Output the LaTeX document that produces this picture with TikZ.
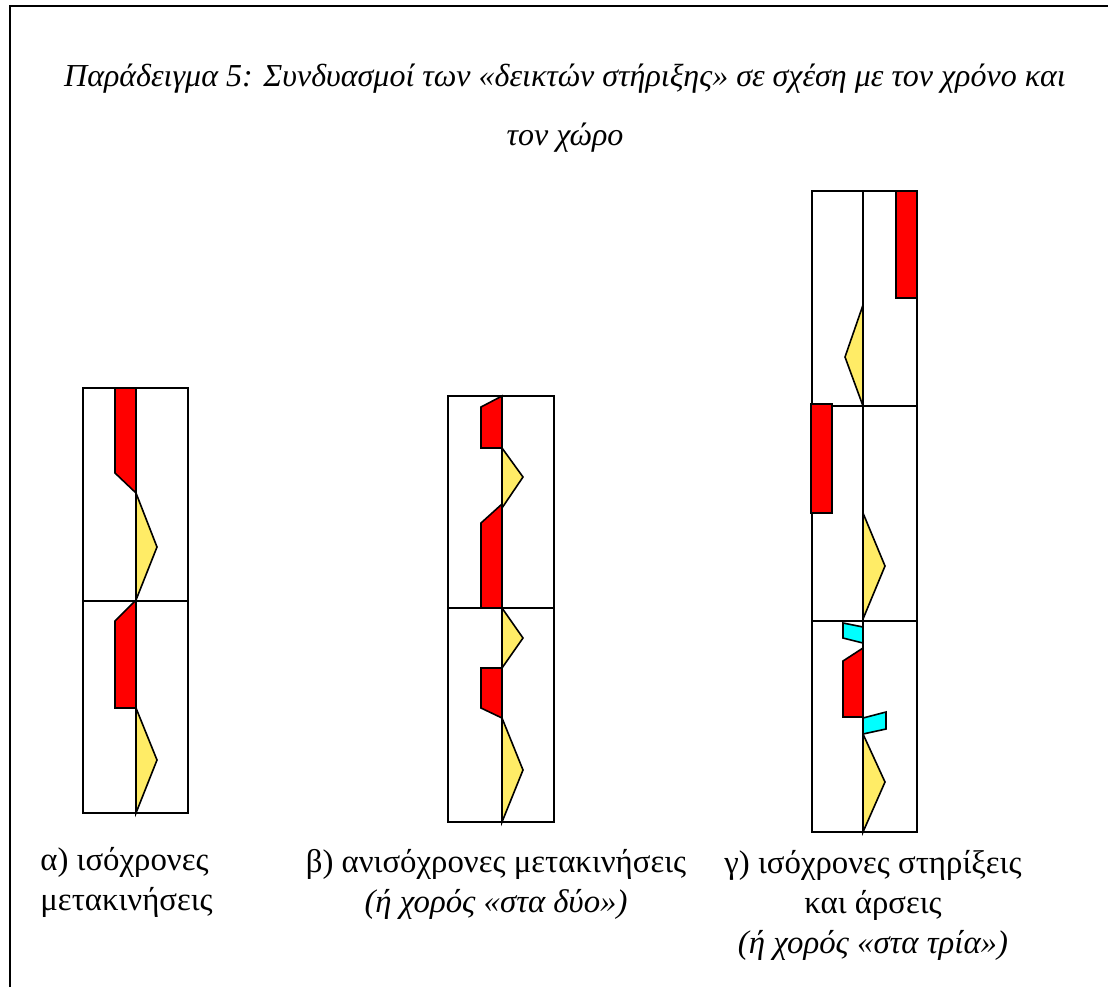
\documentclass[tikz,border=0pt]{standalone}
\usepackage{fontspec}
\setmainfont{Liberation Serif}
\usepackage{tikz}
\usetikzlibrary{arrows}

\definecolor{paleyellow}{RGB}{255,236,102}
\definecolor{brightcyan}{RGB}{0,255,255}
\definecolor{brightred}{RGB}{255,0,0}

\begin{document}
\begin{tikzpicture}[x=0.5pt, y=-0.5pt, line join=miter]
	\tikzstyle{frame} = [line width=1.4pt]
	\tikzstyle{grid} = [line width=0.9pt]
	\tikzstyle{redbar} = [draw, fill=brightred, line width=0.8pt]
	\tikzstyle{yellowtri} = [draw, fill=paleyellow, line width=0.8pt]
	\tikzstyle{cyanbar} = [draw, fill=brightcyan, line width=0.8pt]
	\tikzstyle{caption} = [align=center, inner sep=0pt, anchor=base,
	font=\fontsize{16.4}{20}\selectfont]

	\useasboundingbox (0,0) rectangle (1108,987);
	\draw[frame] (10,987) -- (10,6) -- (1108,6);

	% title
	\node[caption, font=\fontsize{16}{29.5}\selectfont\itshape] (title) at (565,145)
		{Παράδειγμα 5: Συνδυασμοί των «δεικτών στήριξης» σε σχέση με τον χρόνο και\\ τον χώρο};

	% a) 
	\draw[grid] (83,388) rectangle (188,813);
	\draw[grid] (83,601) -- (188,601);
	\draw[grid] (136,388) -- (136,813);
	\draw[redbar] (115,388) -- (115,473) -- (136,493) -- (136,388) -- cycle;
	\draw[yellowtri] (136,493) -- (157,547) -- (136,600) -- cycle;
	\draw[redbar] (136,600) -- (115,621) -- (115,708) -- (136,708) -- cycle;
	\draw[yellowtri] (136,708) -- (157,760) -- (136,813) -- cycle;

	% b)
	\draw[grid] (448,396) rectangle (554,822);
	\draw[grid] (448,608) -- (554,608);
	\draw[grid] (502,396) -- (502,822);
	\draw[redbar] (502,396) -- (481,407) -- (481,448) -- (502,448) -- cycle;
	\draw[yellowtri] (502,448) -- (523,477) -- (502,508) -- cycle;
	\draw[redbar] (502,504) -- (481,523) -- (481,608) -- (502,608) -- cycle;
	\draw[yellowtri] (502,608) -- (523,638) -- (502,668) -- cycle;
	\draw[redbar] (502,668) -- (481,668) -- (481,708) -- (502,718) -- cycle;
	\draw[yellowtri] (502,718) -- (523,770) -- (502,822) -- cycle;

	% c)
	\draw[grid] (812,191) rectangle (917,832);
	\draw[grid] (812,406) -- (917,406);
	\draw[grid] (812,621) -- (917,621);
	\draw[grid] (863,191) -- (863,832);
	\draw[redbar] (896,191) rectangle (917,298);
	\draw[yellowtri] (863,305) -- (845,357) -- (863,406) -- cycle;
	\draw[redbar] (811,404) rectangle (832,513);
	\draw[yellowtri] (863,513) -- (885,566) -- (863,619) -- cycle;
	\draw[cyanbar] (843,623) -- (863,627) -- (863,643) -- (843,638) -- cycle;
	\draw[redbar] (863,648) -- (843,661) -- (843,717) -- (863,717) -- cycle;
	\draw[cyanbar] (863,718) -- (886,712) -- (886,729) -- (863,734) -- cycle;
	\draw[yellowtri] (863,734) -- (885,782) -- (863,832) -- cycle;

	% captions
	\node[caption, align=left, anchor=base west] (capA) at (40,910) {α) ισόχρονες\\ μετακινήσεις};
	\node[caption] (capB) at (496,912) {β) ανισόχρονες μετακινήσεις\\ \textit{(ή χορός «στα δύο»)}};
	\node[caption] (capC) at (873,953) {γ) ισόχρονες στηρίξεις\\ και άρσεις\\ \textit{(ή χορός «στα τρία»)}};
\end{tikzpicture}
\end{document}
